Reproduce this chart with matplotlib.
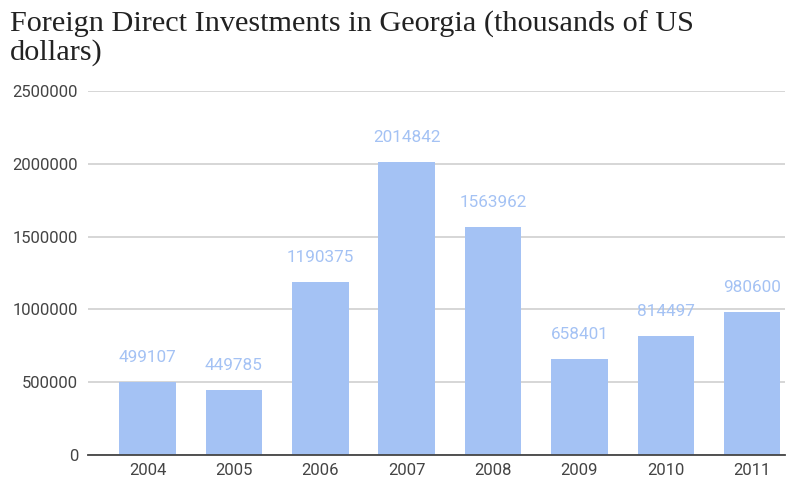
import matplotlib
matplotlib.use("Agg")
import matplotlib.pyplot as plt

years = ["2004", "2005", "2006", "2007", "2008", "2009", "2010", "2011"]
values = [499107, 449785, 1190375, 2014842, 1563962, 658401, 814497, 980600]
yticks = [0, 500000, 1000000, 1500000, 2000000, 2500000]
title_lines = ["Foreign Direct Investments in Georgia (thousands of US", "dollars)"]

bar_color = "#a4c2f4"
label_color = "#a4c2f4"

fig = plt.figure(figsize=(7.99, 4.82), dpi=100)
ax = fig.add_axes([88/799, 1-455/482, (785-88)/799, (455-91)/482])

x = range(len(years))
ax.bar(x, values, width=0.655, color=bar_color, zorder=3)
for xi, v in zip(x, values):
    ax.annotate(str(v), (xi, v), xytext=(0, 14.4), textcoords="offset points",
                ha="center", va="baseline", color=label_color, fontsize=12.3,
                family="Roboto")

ax.set_ylim(0, 2500000)
ax.set_xlim(-0.69, 7.38)
ax.set_yticks(yticks)
ax.set_yticklabels([str(t) for t in yticks], family="Roboto", fontsize=12, color="#444444")
ax.set_xticks(list(x))
ax.set_xticklabels(years, family="Roboto", fontsize=12, color="#444444")
ax.grid(axis="y", color="#d0d0d0", linewidth=1.2, zorder=0)
for s in ["top", "right", "left"]:
    ax.spines[s].set_visible(False)
ax.spines["bottom"].set_color("#444444")
ax.spines["bottom"].set_linewidth(1.3)
ax.spines["bottom"].set_zorder(4)
ax.tick_params(axis="x", length=0, pad=6)
ax.tick_params(axis="y", length=0, pad=7.2)

fig.text(10/799, 1-32/482, title_lines[0], ha="left", va="baseline",
         fontsize=21.8, family="Liberation Serif", color="#222222")
fig.text(10/799, 1-60/482, title_lines[1], ha="left", va="baseline",
         fontsize=21.8, family="Liberation Serif", color="#222222")

fig.savefig("out.png", dpi=100)
